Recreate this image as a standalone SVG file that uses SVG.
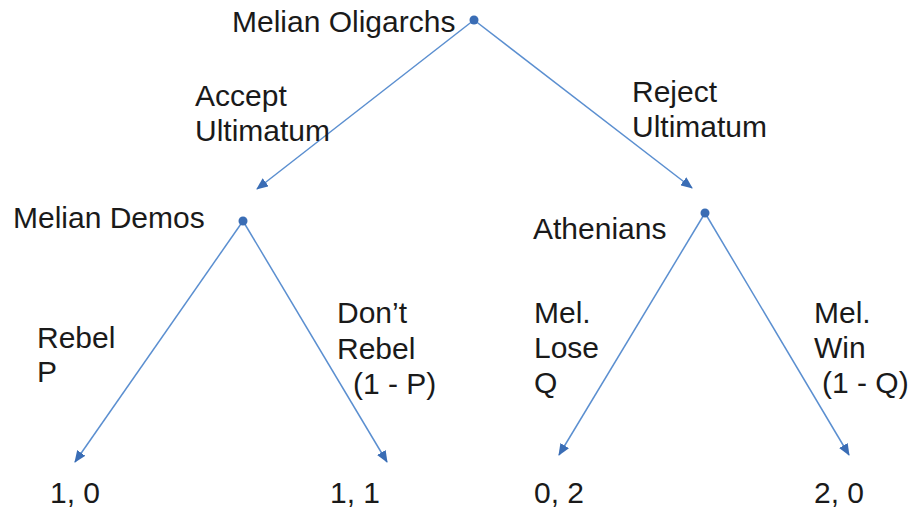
<svg xmlns="http://www.w3.org/2000/svg" width="912" height="516" viewBox="0 0 912 516">
<style>
text{font-family:"Liberation Sans",Arial,sans-serif;font-size:30px;fill:#1a1a1a}
.edge{stroke:#5b8fd0;stroke-width:1.5;fill:none;marker-end:url(#ah)}
.dot{fill:#3a6db5}
</style>
<defs>
<marker id="ah" markerUnits="userSpaceOnUse" markerWidth="12" markerHeight="10" viewBox="0 0 12 10" refX="11" refY="5" orient="auto">
<path d="M0,0 L12,5 L0,10 Z" fill="#3a6db5"/>
</marker>
</defs>
<rect width="912" height="516" fill="#fff"/>
<g id="connectors">
<line class="edge" x1="474" y1="20" x2="257" y2="189"/>
<line class="edge" x1="474" y1="20" x2="692" y2="188"/>
<line class="edge" x1="243" y1="221" x2="75" y2="462"/>
<line class="edge" x1="243" y1="221" x2="387" y2="462"/>
<line class="edge" x1="705" y1="213" x2="559" y2="455"/>
<line class="edge" x1="705" y1="213" x2="849" y2="455"/>
</g>
<g id="edge-labels">
<text x="195" y="106">Accept</text>
<text x="195" y="141">Ultimatum</text>
<text x="632" y="102">Reject</text>
<text x="632" y="137">Ultimatum</text>
<text x="37" y="348">Rebel</text>
<text x="37" y="382">P</text>
<text x="337" y="323">Don’t</text>
<text x="337" y="359">Rebel</text>
<text x="353" y="394">(1 - P)</text>
<text x="534" y="323">Mel.</text>
<text x="534" y="358">Lose</text>
<text x="534" y="393">Q</text>
<text x="814" y="323">Mel.</text>
<text x="814" y="358">Win</text>
<text x="822" y="393">(1 - Q)</text>
</g>
<g id="node-oligarchs">
<circle class="dot" cx="474" cy="20" r="4.5"/>
<text x="232" y="32">Melian Oligarchs</text>
</g>
<g id="node-demos">
<circle class="dot" cx="243" cy="221" r="4.5"/>
<text x="13" y="228">Melian Demos</text>
</g>
<g id="node-athenians">
<circle class="dot" cx="705" cy="213" r="4.5"/>
<text x="533" y="239">Athenians</text>
</g>
<g id="payoff-1"><text x="50" y="503">1, 0</text></g>
<g id="payoff-2"><text x="330" y="503">1, 1</text></g>
<g id="payoff-3"><text x="534" y="503">0, 2</text></g>
<g id="payoff-4"><text x="814" y="503">2, 0</text></g>
</svg>
